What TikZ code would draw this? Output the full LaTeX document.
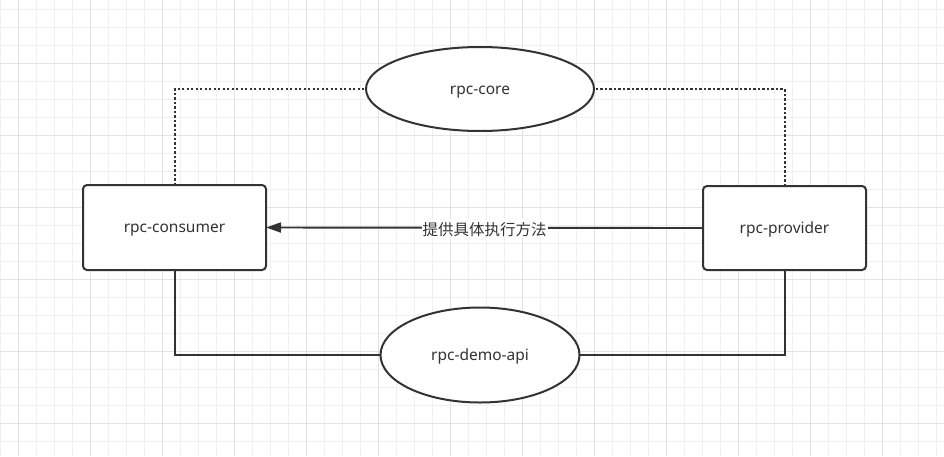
\documentclass[tikz,border=0pt]{standalone}
\usepackage{fontspec}
\setmainfont{Noto Sans}
\newfontfamily\cjk{Noto Sans CJK SC}
\usetikzlibrary{shapes.geometric,arrows.meta}
\definecolor{ink}{HTML}{333333}
\definecolor{gridminor}{HTML}{F0F0F0}
\definecolor{gridmajor}{HTML}{E2E2E2}
\tikzset{
  box/.style={draw=ink, line width=2pt, rounded corners=4pt, fill=white, text=ink, inner sep=0pt, outer sep=0pt, text height=10pt, text depth=0pt, font=\fontsize{15.5}{18}\selectfont},
  oval/.style={ellipse, draw=ink, line width=2pt, fill=white, text=ink, inner sep=0pt, outer sep=0pt, text height=10pt, text depth=0pt, font=\fontsize{15.5}{18}\selectfont},
  dotline/.style={draw=ink, line width=2pt, dash pattern=on 2.2pt off 2.3pt},
  solidline/.style={draw=ink, line width=2pt},
  arrowline/.style={draw=ink, line width=1.9pt, -{Triangle[length=15pt,width=10pt]}},
  lbl/.style={fill=white, text=ink, inner sep=1pt, text height=15.8pt, text depth=0pt, font=\cjk\fontsize{15.5}{18}\selectfont},
  minorgrid/.style={draw=gridminor, line width=0.8pt},
  majorgrid/.style={draw=gridmajor, line width=0.9pt}
}
\begin{document}
\begin{tikzpicture}[x=1pt,y=-1pt]
\useasboundingbox (0,0) rectangle (944,456);
\fill[white] (0,0) rectangle (944,456);
% grid
\foreach \gx in {0.5,18.5,...,944} {\draw[minorgrid] (\gx,0) -- (\gx,456);}
\foreach \gy in {9.5,27.5,...,456} {\draw[minorgrid] (0,\gy) -- (944,\gy);}
\foreach \gx in {18.5,90.5,...,944} {\draw[majorgrid] (\gx,0) -- (\gx,456);}
\foreach \gy in {63.5,135.5,...,456} {\draw[majorgrid] (0,\gy) -- (944,\gy);}
% nodes
\node[box, minimum width=183pt, minimum height=85pt] (consumer) at (174.5,227.5) {rpc-consumer};
\node[box, minimum width=163pt, minimum height=84pt] (provider) at (784.5,228) {rpc-provider};
\node[oval, minimum width=228pt, minimum height=84pt] (core) at (480,89) {rpc-core};
\node[oval, minimum width=199pt, minimum height=95pt] (demo) at (480,355) {rpc-demo-api};
% connectors
\draw[dotline] (consumer.north) |- (core.west);
\draw[dotline] (provider.north) |- (core.east);
\draw[solidline] (consumer.south) |- (demo.west);
\draw[solidline] (provider.south) |- (demo.east);
\draw[arrowline] (provider.west) -- (consumer.east) node[lbl, midway] {提供具体执行方法};
\end{tikzpicture}
\end{document}
